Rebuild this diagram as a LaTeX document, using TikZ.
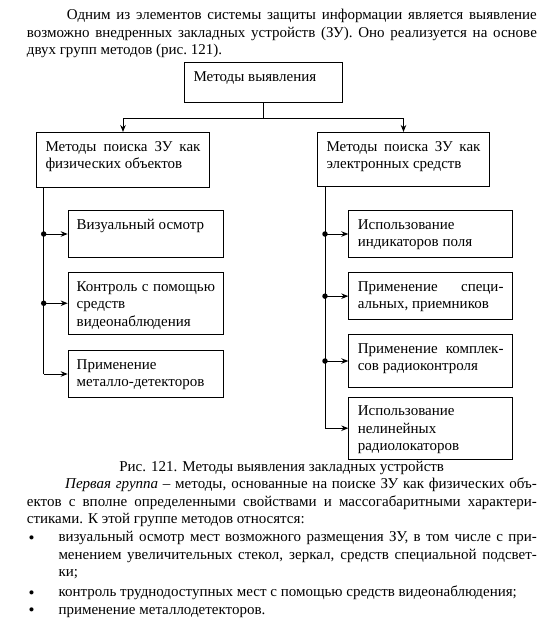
\documentclass[tikz,border=0pt]{standalone}
\usepackage{fontspec}
\setmainfont{Liberation Serif}
\usetikzlibrary{arrows.meta,calc}
\newcommand{\tfont}{\fontsize{15}{17.5}\selectfont}
\newcommand{\bfnt}{\fontsize{17}{17}\selectfont}
\newcommand{\bxt}[3]{\parbox[t][#2pt][t]{#1pt}{\rule{0pt}{18.5pt}#3}}
\newcommand{\ptext}[2]{\parbox[t]{#1pt}{#2}}
\begin{document}
\begin{tikzpicture}[x=1pt,y=-1pt,font=\tfont,
  box/.style={draw,line width=1pt,anchor=north west,inner xsep=9pt,inner ysep=0pt},
  sbox/.style={box,inner xsep=8.5pt},
  conn/.style={line width=1pt},
  arr/.style={conn,-{Stealth[length=7pt,width=5.5pt]}},
  dot/.style={circle,fill,inner sep=0pt,minimum size=5.5pt},
  txt/.style={anchor=base west,inner sep=0pt},
  bul/.style={anchor=base,inner sep=0pt,font=\bfnt}]
\path[use as bounding box] (0,0) rectangle (552,633);

% top paragraph
\node[txt] (p1) at (26.7,19.5) {\ptext{510}{\hspace*{40pt}Одним из элементов системы защиты информации является выявление\linebreak возможно внедренных закладных устройств (ЗУ). Оно реализуется на основе\linebreak двух групп методов (рис.~121).}};

% boxes
\node[box] (top) at (184,62) {\bxt{140}{40}{Методы выявления}};
\node[box] (L) at (36,132) {\bxt{155}{55}{Методы поиска ЗУ как\linebreak физических объектов}};
\node[box] (R) at (317,132) {\bxt{154}{54}{Методы поиска ЗУ как\linebreak электронных средств}};

\node[sbox] (B1) at (67.7,210) {\bxt{138.3}{47}{Визуальный осмотр}};
\node[sbox] (B2) at (67.7,272) {\bxt{138.3}{61.5}{Контроль с помощью\linebreak средств\\видеонаблюдения}};
\node[sbox] (B3) at (67.7,350) {\bxt{138.3}{47}{Применение\\металло-детекторов}};

\node[box] (R1) at (348.3,210) {\bxt{145.7}{47}{Использование\\индикаторов поля}};
\node[box] (R2) at (348.3,272.3) {\bxt{145.7}{46.7}{Применение специ-\linebreak альных, приемников}};
\node[box] (R3) at (348.3,334.3) {\bxt{145.7}{52.4}{Применение комплек-\linebreak сов радиоконтроля}};
\node[box] (R4) at (348.3,396.7) {\bxt{145.7}{62}{Использование\\нелинейных\\радиолокаторов}};

% top connectors
\coordinate (J) at ($(top.south)+(0,15)$);
\coordinate (JL) at (L.north |- J);
\coordinate (JR) at (R.north |- J);
\draw[conn] (top.south) -- (J);
\draw[conn] (JL) -- (JR);
\draw[arr] (JL) -- (L.north);
\draw[arr] (JR) -- (R.north);

% left trunk
\coordinate (LT) at ($(L.south west)+(7.7,0)$);
\coordinate (LE) at (LT |- B3.west);
\draw[conn] (LT) -- (LE);
\draw[arr] (LE) -- (B3.west);
\node[dot] (d1) at (LT |- B1.west) {};
\node[dot] (d2) at (LT |- B2.west) {};
\draw[arr] (d1.center) -- (B1.west);
\draw[arr] (d2.center) -- (B2.west);

% right trunk
\coordinate (RT) at ($(R.south west)+(8,0)$);
\coordinate (RE) at (RT |- R4.west);
\draw[conn] (RT) -- (RE);
\draw[arr] (RE) -- (R4.west);
\node[dot] (e1) at (RT |- R1.west) {};
\node[dot] (e2) at (RT |- R2.west) {};
\node[dot] (e3) at (RT |- R3.west) {};
\draw[arr] (e1.center) -- (R1.west);
\draw[arr] (e2.center) -- (R2.west);
\draw[arr] (e3.center) -- (R3.west);

% caption and text below
\node[anchor=base,inner sep=0pt] (cap) at (281.7,471.5) {Рис. 121. Методы выявления закладных устройств};
\node[txt] (p2) at (26.7,488.5) {\ptext{510}{\hspace*{38.3pt}\textit{Первая группа} – методы, основанные на поиске ЗУ как физических объ-\linebreak ектов с вполне определенными свойствами и массогабаритными характери-\linebreak стиками. К этой группе методов относятся:}};

\node[bul] (u1) at (31.7,543) {•};
\node[txt] (i1) at (58.3,541.5) {\ptext{478.4}{визуальный осмотр мест возможного размещения ЗУ, в том числе с при-\linebreak менением увеличительных стекол, зеркал, средств специальной подсвет-\linebreak ки;}};
\node[bul] (u2) at (31.7,598) {•};
\node[txt] (i2) at (58.3,596.5) {\ptext{478.4}{контроль труднодоступных мест с помощью средств видеонаблюдения;}};
\node[bul] (u3) at (31.7,615.5) {•};
\node[txt] (i3) at (58.3,614) {\ptext{478.4}{применение металлодетекторов.}};
\end{tikzpicture}
\end{document}
